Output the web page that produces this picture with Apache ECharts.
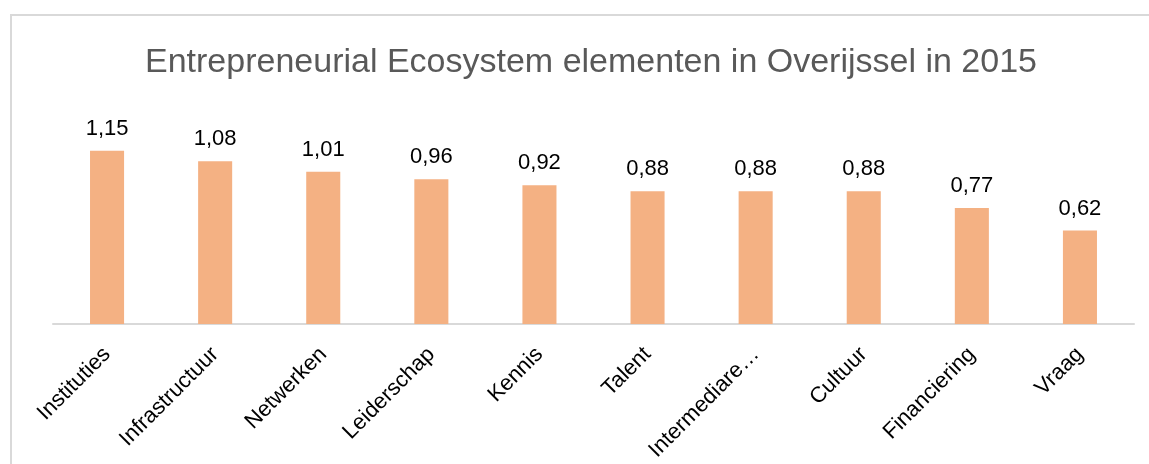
<!DOCTYPE html>
<html>
<head>
<meta charset="utf-8">
<script src="https://cdn.jsdelivr.net/npm/echarts@6/dist/echarts.min.js"></script>
<style>
  html, body { margin: 0; padding: 0; background: #fff; }
  #main { width: 1149px; height: 464px; }
</style>
</head>
<body>
<div id="main"></div>
<script>
  var categories = ['Instituties', 'Infrastructuur', 'Netwerken', 'Leiderschap', 'Kennis', 'Talent', 'Intermediare…', 'Cultuur', 'Financiering', 'Vraag'];
  var values = [1.15, 1.08, 1.01, 0.96, 0.92, 0.88, 0.88, 0.88, 0.77, 0.62];
  var titleText = 'Entrepreneurial Ecosystem elementen in Overijssel in 2015';

  var myChart = echarts.init(document.getElementById('main'));
  myChart.setOption({
    backgroundColor: '#fff',
    animation: false,
    graphic: [{
      type: 'rect',
      shape: { x: 11, y: 15, width: 1200, height: 500 },
      style: { fill: 'none', stroke: '#d9d9d9', lineWidth: 2 },
      silent: true
    }],
    title: {
      text: titleText,
      left: 140,
      top: 41,
      textStyle: {
        fontFamily: 'Liberation Sans',
        fontSize: 34,
        fontWeight: 'normal',
        color: '#595959'
      }
    },
    grid: {
      left: 53,
      right: 15,
      top: 113,
      bottom: 140
    },
    xAxis: {
      type: 'category',
      data: categories,
      axisLine: { show: true, lineStyle: { color: '#d9d9d9', width: 2 } },
      axisTick: { show: false },
      axisLabel: {
        rotate: 45,
        interval: 0,
        margin: 27,
        fontFamily: 'Liberation Sans',
        fontSize: 22,
        color: '#000'
      }
    },
    yAxis: {
      type: 'value',
      min: 0,
      max: 1.4,
      show: false,
      splitLine: { show: false }
    },
    series: [{
      type: 'bar',
      data: values,
      barWidth: '31.5%',
      itemStyle: { color: '#F4B183' },
      label: {
        show: true,
        position: 'top',
        distance: 11,
        fontFamily: 'Liberation Sans',
        fontSize: 22,
        color: '#000',
        formatter: function (p) {
          return p.value.toFixed(2).replace('.', ',');
        }
      }
    }]
  });
</script>
</body>
</html>
